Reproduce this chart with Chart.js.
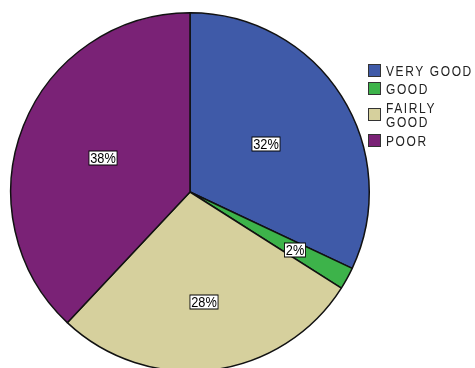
<!DOCTYPE html>
<html>
<head>
<meta charset="utf-8">
<script src="https://cdn.jsdelivr.net/npm/chart.js@4/dist/chart.umd.min.js"></script>
<style>
  html, body { margin: 0; padding: 0; background: #fff; overflow: hidden; }
  #wrap { position: relative; width: 475px; height: 380px; }
</style>
</head>
<body>
<div id="wrap"><canvas id="pie"></canvas></div>
<script>
// rating shares, in percent
const categories = ['VERY GOOD', 'GOOD', 'FAIRLY GOOD', 'POOR'];
const shares = [32, 2, 28, 38];
const colors = ['#3F5AA8', '#3DB34A', '#D6D09D', '#7A2276'];

// how far out along the radius each % label sits
const labelRadius = [0.5, 0.67, 0.62, 0.52];

// white boxed percentages on the slices
const sliceLabels = {
  id: 'sliceLabels',
  afterDatasetsDraw(chart) {
    const ctx = chart.ctx;
    const meta = chart.getDatasetMeta(0);
    ctx.save();
    ctx.font = '15px "Liberation Sans", Arial, sans-serif';
    ctx.textBaseline = 'middle';
    meta.data.forEach((arc, i) => {
      const mid = (arc.startAngle + arc.endAngle) / 2;
      const r = arc.outerRadius * labelRadius[i];
      const x = Math.round(arc.x + Math.cos(mid) * r);
      const y = Math.round(arc.y + Math.sin(mid) * r);
      const txt = shares[i] + '%';
      ctx.save();
      ctx.translate(x, y);
      ctx.scale(0.85, 1);
      const w = ctx.measureText(txt).width + 3;
      ctx.fillStyle = '#fff';
      ctx.fillRect(-w / 2, -7, w, 14);
      ctx.strokeStyle = '#000';
      ctx.lineWidth = 1;
      ctx.strokeRect(-w / 2, -7, w, 14);
      ctx.fillStyle = '#000';
      ctx.textAlign = 'center';
      ctx.fillText(txt, 0, 1);
      ctx.restore();
    });
    ctx.restore();
  }
};

// legend on the right, top aligned
const sideLegend = {
  id: 'sideLegend',
  afterDraw(chart) {
    const ctx = chart.ctx;
    const rows = [[71], [89], [108, 122], [141]];
    ctx.save();
    ctx.font = '15px "Liberation Sans", Arial, sans-serif';
    ctx.textBaseline = 'middle';
    categories.forEach((name, i) => {
      const ys = rows[i];
      const boxY = (ys[0] + ys[ys.length - 1]) / 2;
      ctx.fillStyle = colors[i];
      ctx.fillRect(368.5, boxY - 6.5, 12, 12);
      ctx.strokeStyle = '#333';
      ctx.lineWidth = 1;
      ctx.strokeRect(368.5, boxY - 6.5, 12, 12);
      const lines = ys.length > 1 ? name.split(' ') : [name];
      ctx.fillStyle = '#222';
      lines.forEach((ln, k) => {
        ctx.save();
        ctx.translate(386, ys[k] + 1);
        ctx.scale(0.8, 1);
        ctx.letterSpacing = '2px';
        ctx.fillText(ln, 0, 0);
        ctx.restore();
      });
    });
    ctx.restore();
  }
};

new Chart(document.getElementById('pie'), {
  type: 'pie',
  data: {
    labels: categories,
    datasets: [{
      data: shares,
      backgroundColor: colors,
      borderColor: '#111',
      borderWidth: 1.5
    }]
  },
  options: {
    responsive: true,
    maintainAspectRatio: false,
    animation: false,
    layout: { padding: { left: 10, top: 12, right: 105, bottom: 8 } },
    plugins: {
      legend: { display: false },
      tooltip: { enabled: false }
    }
  },
  plugins: [sliceLabels, sideLegend]
});
</script>
</body>
</html>
